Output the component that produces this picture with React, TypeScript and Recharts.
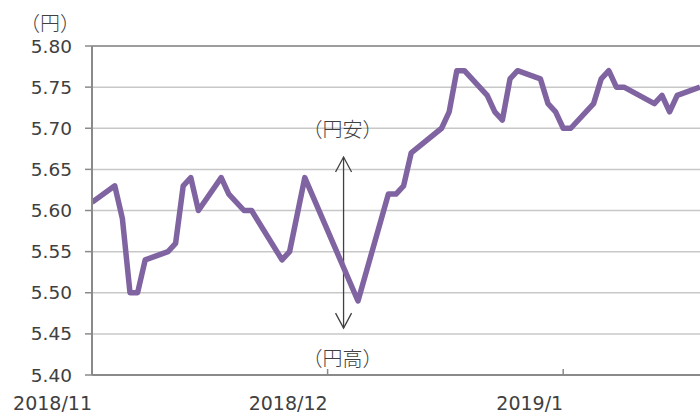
import { CartesianGrid, Label, Line, LineChart, ReferenceLine, XAxis, YAxis } from 'recharts'

// day offset from the axis start (2018/10/31) and the rate in yen
const days = [
  0, 3, 4, 5, 6, 7, 10, 11, 12, 13, 14, 17, 18, 20, 21, 25, 26, 28, 35, 39, 40, 41, 42, 46, 47, 48,
  49, 52, 53, 54, 55, 56, 59, 60, 61, 62, 63, 66, 67, 68, 69, 70, 74, 75, 76, 77, 80,
]
const rates = [
  5.61, 5.63, 5.59, 5.5, 5.5, 5.54, 5.55, 5.56, 5.63, 5.64, 5.6, 5.64, 5.62, 5.6, 5.6, 5.54, 5.55,
  5.64, 5.49, 5.62, 5.62, 5.63, 5.67, 5.7, 5.72, 5.77, 5.77, 5.74, 5.72, 5.71, 5.76, 5.77, 5.76,
  5.73, 5.72, 5.7, 5.7, 5.73, 5.76, 5.77, 5.75, 5.75, 5.73, 5.74, 5.72, 5.74, 5.75,
]

const monthTicks = [0, 31, 62]
const monthLabels = ['2018/11', '2018/12', '2019/1']
const yTicks = [5.4, 5.45, 5.5, 5.55, 5.6, 5.65, 5.7, 5.75, 5.8]

const arrowDay = 33.1
const arrowTop = 5.665
const arrowBottom = 5.457

const data = days.map((d, i) => ({ d, rate: rates[i] }))

const textColor = '#404040'
const axisColor = '#8a8a8a'
const numFont = "'DejaVu Sans', Verdana, sans-serif"
const cjkFont = "'Noto Sans CJK JP', sans-serif"

function MonthTick(props: any) {
  const { x, y, payload } = props
  const idx = monthTicks.indexOf(payload.value)
  return (
    <g>
      {idx > 0 && <line x1={x} y1={y} x2={x} y2={y - 6} stroke={axisColor} strokeWidth={1.5} />}
      <text
        x={x}
        y={y + 28}
        textAnchor="end"
        dominantBaseline="central"
        fill={textColor}
        fontSize={19}
        fontFamily={numFont}
      >
        {monthLabels[idx]}
      </text>
    </g>
  )
}

function ArrowShape(props: any) {
  const { x1, y1, x2, y2 } = props
  const top = Math.min(y1, y2)
  const bottom = Math.max(y1, y2)
  return (
    <g>
      <line x1={x1} y1={top} x2={x2} y2={bottom} stroke={textColor} strokeWidth={1.3} />
      <polyline
        points={`${x1 - 8},${top + 15} ${x1},${top} ${x1 + 8},${top + 15}`}
        fill="none"
        stroke={textColor}
        strokeWidth={1.3}
      />
      <polyline
        points={`${x2 - 8},${bottom - 15} ${x2},${bottom} ${x2 + 8},${bottom - 15}`}
        fill="none"
        stroke={textColor}
        strokeWidth={1.3}
      />
      <text
        x={x1 - 1}
        y={top - 29}
        textAnchor="middle"
        dominantBaseline="central"
        fill={textColor}
        fontSize={20}
        fontWeight={300}
        fontFamily={cjkFont}
      >
        （円安）
      </text>
      <text
        x={x2 - 1}
        y={bottom + 29}
        textAnchor="middle"
        dominantBaseline="central"
        fill={textColor}
        fontSize={20}
        fontWeight={300}
        fontFamily={cjkFont}
      >
        （円高）
      </text>
    </g>
  )
}

export default function App() {
  return (
    <div style={{ position: 'absolute', left: 0, top: 0, background: '#fff' }}>
      <LineChart width={700} height={414} data={data} margin={{ top: 46, right: 0, bottom: 0, left: 0 }}>
        <CartesianGrid vertical={false} stroke="#c8c8c8" strokeWidth={1.5} />
        <XAxis
          type="number"
          dataKey="d"
          domain={[0, 80]}
          ticks={monthTicks}
          tick={<MonthTick />}
          tickLine={false}
          tickSize={0}
          tickMargin={0}
          axisLine={{ stroke: axisColor, strokeWidth: 2 }}
          height={39}
          allowDataOverflow
        />
        <YAxis
          type="number"
          domain={[5.4, 5.8]}
          ticks={yTicks}
          width={92}
          tickFormatter={(v: number) => v.toFixed(2)}
          tick={{ fill: textColor, fontSize: 18.5, fontFamily: numFont }}
          tickSize={7}
          tickMargin={13}
          tickLine={{ stroke: axisColor, strokeWidth: 1.5 }}
          axisLine={{ stroke: axisColor, strokeWidth: 2 }}
          allowDataOverflow
        >
          <Label
            content={(p: any) => (
              <text
                x={(p.viewBox?.x ?? 0) + 50}
                y={(p.viewBox?.y ?? 46) - 24}
                textAnchor="middle"
                dominantBaseline="central"
                fill={textColor}
                fontSize={20}
                fontWeight={300}
                fontFamily={cjkFont}
              >
                （円）
              </text>
            )}
          />
        </YAxis>
        <ReferenceLine y={5.8} stroke={axisColor} strokeWidth={1.5} />
        <ReferenceLine
          segment={[
            { x: arrowDay, y: arrowTop },
            { x: arrowDay, y: arrowBottom },
          ]}
          shape={(p: any) => <ArrowShape {...p} />}
        />
        <Line
          type="linear"
          dataKey="rate"
          stroke="#8064A2"
          strokeWidth={5.5}
          strokeLinejoin="round"
          dot={false}
          isAnimationActive={false}
        />
      </LineChart>
    </div>
  )
}
